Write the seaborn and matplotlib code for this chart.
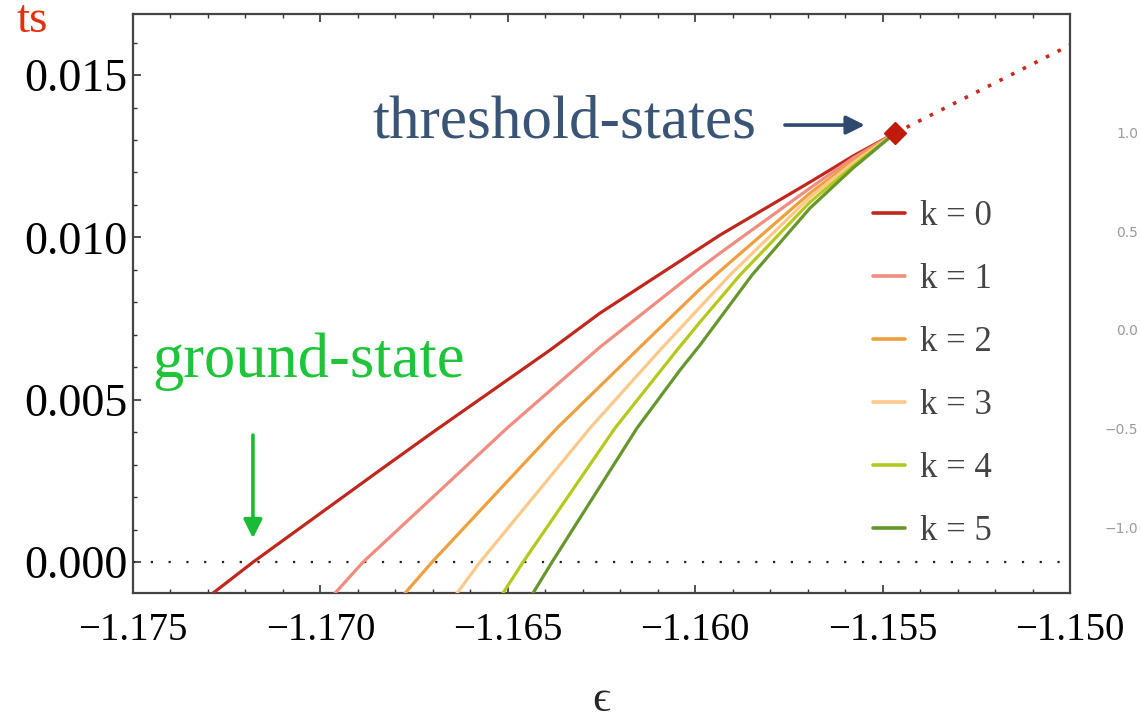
import numpy as np
import pandas as pd
import seaborn as sns
import matplotlib.pyplot as plt
from matplotlib.ticker import MultipleLocator, FuncFormatter

# values (epsilon, f) for each k
eps_k0 = [-1.172866, -1.171798, -1.168410, -1.166996, -1.163874, -1.162540, -1.159872, -1.159338, -1.156937, -1.155790, -1.15467]
val_k0 = [-0.000955, 0.0, 0.002834, 0.004004, 0.006530, 0.007669, 0.009671, 0.010072, 0.011704, 0.012505, 0.01321]
eps_k1 = [-1.169610, -1.168863, -1.165021, -1.162540, -1.159872, -1.159338, -1.156937, -1.155790, -1.15467]
val_k1 = [-0.000955, 0.0, 0.004127, 0.006622, 0.009055, 0.009517, 0.011519, 0.012443, 0.01321]
eps_k2 = [-1.167743, -1.167022, -1.163687, -1.161553, -1.159872, -1.159338, -1.156937, -1.155790, -1.15467]
val_k2 = [-0.000955, 0.0, 0.004127, 0.006530, 0.008409, 0.008963, 0.011365, 0.012351, 0.01321]
eps_k3 = [-1.166355, -1.165742, -1.162807, -1.160939, -1.159872, -1.159072, -1.156937, -1.155790, -1.15467]
val_k3 = [-0.000955, 0.0, 0.004127, 0.006530, 0.007854, 0.008840, 0.011242, 0.012289, 0.01321]
eps_k4 = [-1.165128, -1.164594, -1.162140, -1.160485, -1.159872, -1.158805, -1.156937, -1.155790, -1.15467]
val_k4 = [-0.000955, 0.0, 0.004127, 0.006530, 0.007392, 0.008840, 0.011088, 0.012197, 0.01321]
eps_k5 = [-1.164328, -1.163821, -1.161553, -1.160406, -1.159872, -1.158485, -1.156937, -1.155790, -1.15467]
val_k5 = [-0.000955, 0.0, 0.004127, 0.005914, 0.006684, 0.008840, 0.010903, 0.012135, 0.01321]

labels = ["k = 0", "k = 1", "k = 2", "k = 3", "k = 4", "k = 5"]
colors = ["#c0281e", "#f08c80", "#eea040", "#fcc98a", "#b5c81e", "#67962c"]

threshold_eps = [-1.15467]
threshold_val = [0.01321]
tangent_eps = [-1.15467, -1.150]
tangent_val = [0.01321, 0.01592]

right_ticks = [-1.0, -0.5, 0.0, 0.5, 1.0]

all_eps = [eps_k0, eps_k1, eps_k2, eps_k3, eps_k4, eps_k5]
all_val = [val_k0, val_k1, val_k2, val_k3, val_k4, val_k5]
df = pd.concat([pd.DataFrame({"eps": e, "f": v, "k": lab})
                for e, v, lab in zip(all_eps, all_val, labels)], ignore_index=True)

sns.set_style("ticks")
plt.rcParams['font.family'] = ['Liberation Serif', 'DejaVu Serif']
plt.rcParams['axes.unicode_minus'] = True

fig = plt.figure(figsize=(11.41, 7.21), dpi=100)
ax = fig.add_axes([133 / 1141, 1 - 593 / 721, 937 / 1141, 579 / 721])

ax.axhline(0, color="#222222", lw=1.6, ls=(0, (1, 7)), zorder=1)

sns.lineplot(data=df, x="eps", y="f", hue="k", palette=colors, estimator=None,
             sort=False, lw=2.3, ax=ax, zorder=3)

ax.plot(tangent_eps, tangent_val, color="#c8281e", lw=2.6, ls=(0, (1, 2.6)), zorder=2)
ax.plot(threshold_eps, threshold_val, marker="D", ms=11, color="#c01a0c", ls="none", zorder=5)

ax.set_xlim(-1.175, -1.150)
ax.set_ylim(-0.00095, 0.01688)

ax.xaxis.set_major_locator(MultipleLocator(0.005))
ax.xaxis.set_minor_locator(MultipleLocator(0.001))
ax.yaxis.set_major_locator(MultipleLocator(0.005))
ax.yaxis.set_minor_locator(MultipleLocator(0.001))
fmt = FuncFormatter(lambda v, p: ("%.3f" % v).replace("-", "\u2212"))
ax.xaxis.set_major_formatter(fmt)
ax.yaxis.set_major_formatter(fmt)
ax.tick_params(which="both", direction="in", top=True, right=True, color="#333333",
               labelcolor="black")
ax.tick_params(which="major", length=6, width=1.2)
ax.tick_params(which="minor", length=3, width=1.0)
ax.tick_params(axis="y", labelsize=33, pad=4)
ax.tick_params(axis="x", labelsize=28, pad=14)
for s in ax.spines.values():
    s.set_color("#444444")
    s.set_linewidth(1.6)

ax.set_xlabel("\u03f5", fontsize=32, labelpad=22)
ax.set_ylabel("")

leg = ax.legend(loc="upper left", bbox_to_anchor=(0.79, 0.678), frameon=False,
                fontsize=25, handlelength=0.92, handletextpad=0.43, labelspacing=0.86,
                borderpad=0, borderaxespad=0)
for t in leg.get_texts():
    t.set_color("#444444")
for h in leg.get_lines():
    h.set_linewidth(2.6)

ax.text(-1.16862, 0.01309, "threshold-states", fontsize=44, color="#3a5476", va="baseline")
ax.annotate("", xy=(-1.15540, 0.01346), xytext=(-1.15768, 0.01346),
            arrowprops=dict(arrowstyle="-|>", color="#2f4a6e", lw=2.6, mutation_scale=28))

ax.text(-1.17447, 0.00570, "ground-state", fontsize=45, color="#1fc43a", va="baseline")
ax.annotate("", xy=(-1.1718, 0.00065), xytext=(-1.1718, 0.00400),
            arrowprops=dict(arrowstyle="-|>", color="#1bbb35", lw=2.6, mutation_scale=28))

# right-hand axis of a neighbouring panel at the picture edge
ax2 = ax.twinx()
ax2.set_ylim(-1.335, 1.604)
ax2.set_yticks(right_ticks)
ax2.set_yticklabels([("%.1f" % v).replace("-", "\u2212") for v in right_ticks],
                    fontsize=10, color="#9a9a9a", family="DejaVu Sans", ha="right")
ax2.tick_params(axis="y", length=0, pad=49)
for s in ax2.spines.values():
    s.set_visible(False)

fig.text(48 / 1141, 1 - 32 / 721, "ts", color="#e0300e", fontsize=34, ha="right", va="baseline")

fig.savefig("out.png", dpi=100)
